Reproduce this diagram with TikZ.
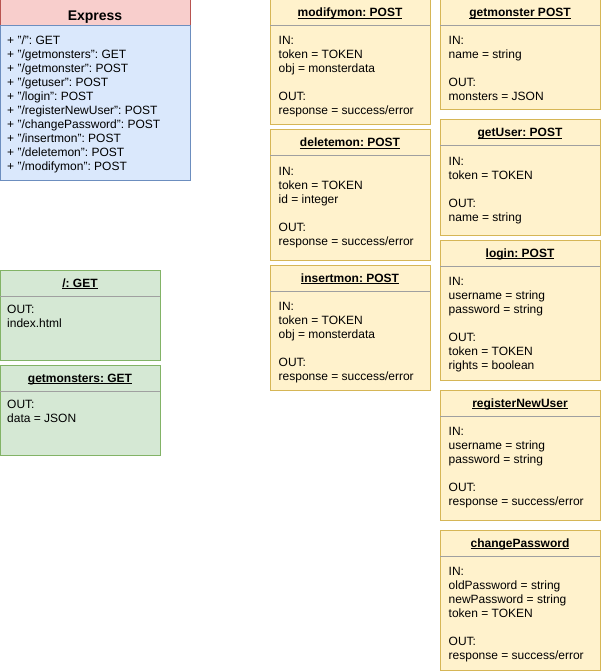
\documentclass[tikz,border=0pt]{standalone}
\usepackage{fontspec}
\setmainfont{Liberation Sans}
\usepackage{tikz}
\usetikzlibrary{positioning}

\definecolor{redfill}{HTML}{F8CECC}
\definecolor{reddraw}{HTML}{B85450}
\definecolor{bluefill}{HTML}{DAE8FC}
\definecolor{bluedraw}{HTML}{6C8EBF}
\definecolor{greenfill}{HTML}{D5E8D4}
\definecolor{greendraw}{HTML}{82B366}
\definecolor{yellowfill}{HTML}{FFF2CC}
\definecolor{yellowdraw}{HTML}{D6B656}
\definecolor{sepgray}{HTML}{A0A0A0}

\newcommand{\apititle}[1]{\underline{\smash{#1}}}
\frenchspacing

\begin{document}
\begin{tikzpicture}[x=1pt, y=-1pt,
    apibox/.style={rectangle, draw=yellowdraw, fill=yellowfill, line width=1pt,
        inner sep=0pt, outer sep=0pt, minimum width=160pt},
    greenbox/.style={apibox, draw=greendraw, fill=greenfill},
    boxtitle/.style={font=\bfseries\fontsize{12}{14}\selectfont, inner sep=0pt, anchor=base},
    boxbody/.style={font=\fontsize{12}{14}\selectfont, align=left, inner sep=0pt, anchor=north west},
    hline/.style={draw=sepgray, line width=1pt}]

    \useasboundingbox (0,0) rectangle (601,671);

    % left column
    \node (express-head) [rectangle, draw=reddraw, fill=redfill, line width=1pt, inner sep=0pt,
        outer sep=0pt, minimum width=190pt, minimum height=26pt, anchor=north west] at (0,0) {};
    \node (express) [rectangle, draw=bluedraw, fill=bluefill, line width=1pt, inner sep=0pt,
        outer sep=0pt, minimum width=190pt, minimum height=154pt, below=0pt of express-head] {};
    \node (getroot)     [greenbox, minimum height=90pt, anchor=north west] at (0,270) {};
    \node (getmonsters) [greenbox, minimum height=90pt, below=5pt of getroot] {};

    % middle column
    \node (modifymon) [apibox, minimum height=125pt, anchor=north west] at (270,0) {};
    \node (deletemon) [apibox, minimum height=130pt, below=5pt of modifymon] {};
    \node (insertmon) [apibox, minimum height=125pt, below=5pt of deletemon] {};

    % right column
    \node (getmonster)      [apibox, minimum height=110pt, anchor=north west] at (440,0) {};
    \node (getuser)         [apibox, minimum height=115pt, below=10pt of getmonster] {};
    \node (login)           [apibox, minimum height=140pt, below=5pt of getuser] {};
    \node (registernewuser) [apibox, minimum height=130pt, below=10pt of login] {};
    \node (changepassword)  [apibox, minimum height=140pt, below=10pt of registernewuser] {};

    % separators
    \draw [hline] ([yshift=-26pt]getroot.north west) -- ([yshift=-26pt]getroot.north east);
    \draw [hline] ([yshift=-26pt]getmonsters.north west) -- ([yshift=-26pt]getmonsters.north east);
    \draw [hline] ([yshift=-26pt]modifymon.north west) -- ([yshift=-26pt]modifymon.north east);
    \draw [hline] ([yshift=-26pt]deletemon.north west) -- ([yshift=-26pt]deletemon.north east);
    \draw [hline] ([yshift=-26pt]insertmon.north west) -- ([yshift=-26pt]insertmon.north east);
    \draw [hline] ([yshift=-26pt]getmonster.north west) -- ([yshift=-26pt]getmonster.north east);
    \draw [hline] ([yshift=-26pt]getuser.north west) -- ([yshift=-26pt]getuser.north east);
    \draw [hline] ([yshift=-26pt]login.north west) -- ([yshift=-26pt]login.north east);
    \draw [hline] ([yshift=-26pt]registernewuser.north west) -- ([yshift=-26pt]registernewuser.north east);
    \draw [hline] ([yshift=-26pt]changepassword.north west) -- ([yshift=-26pt]changepassword.north east);

    % titles
    \node (express-t) [boxtitle, font=\bfseries\fontsize{14}{16}\selectfont]
        at ([yshift=-20.5pt]express-head.north) {Express};
    \node (getroot-t)         [boxtitle] at ([yshift=-17pt]getroot.north) {\apititle{/: GET}};
    \node (getmonsters-t)     [boxtitle] at ([yshift=-17pt]getmonsters.north) {\apititle{getmonsters: GET}};
    \node (modifymon-t)       [boxtitle] at ([yshift=-17pt]modifymon.north) {\apititle{modifymon: POST}};
    \node (deletemon-t)       [boxtitle] at ([yshift=-17pt]deletemon.north) {\apititle{deletemon: POST}};
    \node (insertmon-t)       [boxtitle] at ([yshift=-17pt]insertmon.north) {\apititle{insertmon: POST}};
    \node (getmonster-t)      [boxtitle] at ([yshift=-17pt]getmonster.north) {\apititle{getmonster POST}};
    \node (getuser-t)         [boxtitle] at ([yshift=-17pt]getuser.north) {\apititle{getUser: POST}};
    \node (login-t)           [boxtitle] at ([yshift=-17pt]login.north) {\apititle{login: POST}};
    \node (registernewuser-t) [boxtitle] at ([yshift=-17pt]registernewuser.north) {\apititle{registerNewUser}};
    \node (changepassword-t)  [boxtitle] at ([yshift=-17pt]changepassword.north) {\apititle{changePassword}};

    % contents
    \node (express-b) [boxbody] at ([xshift=7pt, yshift=-9pt]express.north west)
        {\strut + "/": GET\\+ "/getmonsters": GET\\+ "/getmonster": POST\\+ "/getuser": POST\\
         + "/login": POST\\+ "/registerNewUser": POST\\+ "/changePassword": POST\\
         + "/insertmon": POST\\+ "/deletemon": POST\\+ "/modifymon": POST};
    \node (getroot-b) [boxbody] at ([xshift=7pt, yshift=-33pt]getroot.north west)
        {\strut OUT:\\index.html};
    \node (getmonsters-b) [boxbody] at ([xshift=7pt, yshift=-33pt]getmonsters.north west)
        {\strut OUT:\\data = JSON};
    \node (modifymon-b) [boxbody] at ([xshift=8.5pt, yshift=-35pt]modifymon.north west)
        {\strut IN:\\token = TOKEN\\obj = monsterdata\\[14pt]OUT:\\response = success/error};
    \node (deletemon-b) [boxbody] at ([xshift=8.5pt, yshift=-35pt]deletemon.north west)
        {\strut IN:\\token = TOKEN\\id = integer\\[14pt]OUT:\\response = success/error};
    \node (insertmon-b) [boxbody] at ([xshift=8.5pt, yshift=-35pt]insertmon.north west)
        {\strut IN:\\token = TOKEN\\obj = monsterdata\\[14pt]OUT:\\response = success/error};
    \node (getmonster-b) [boxbody] at ([xshift=8.5pt, yshift=-35pt]getmonster.north west)
        {\strut IN:\\name = string\\[14pt]OUT:\\monsters = JSON};
    \node (getuser-b) [boxbody] at ([xshift=8.5pt, yshift=-35pt]getuser.north west)
        {\strut IN:\\token = TOKEN\\[14pt]OUT:\\name = string};
    \node (login-b) [boxbody] at ([xshift=8.5pt, yshift=-35pt]login.north west)
        {\strut IN:\\username = string\\password = string\\[14pt]OUT:\\token = TOKEN\\rights = boolean};
    \node (registernewuser-b) [boxbody] at ([xshift=8.5pt, yshift=-35pt]registernewuser.north west)
        {\strut IN:\\username = string\\password = string\\[14pt]OUT:\\response = success/error};
    \node (changepassword-b) [boxbody] at ([xshift=8.5pt, yshift=-35pt]changepassword.north west)
        {\strut IN:\\oldPassword = string\\newPassword = string\\token = TOKEN\\[14pt]OUT:\\response = success/error};

\end{tikzpicture}
\end{document}
